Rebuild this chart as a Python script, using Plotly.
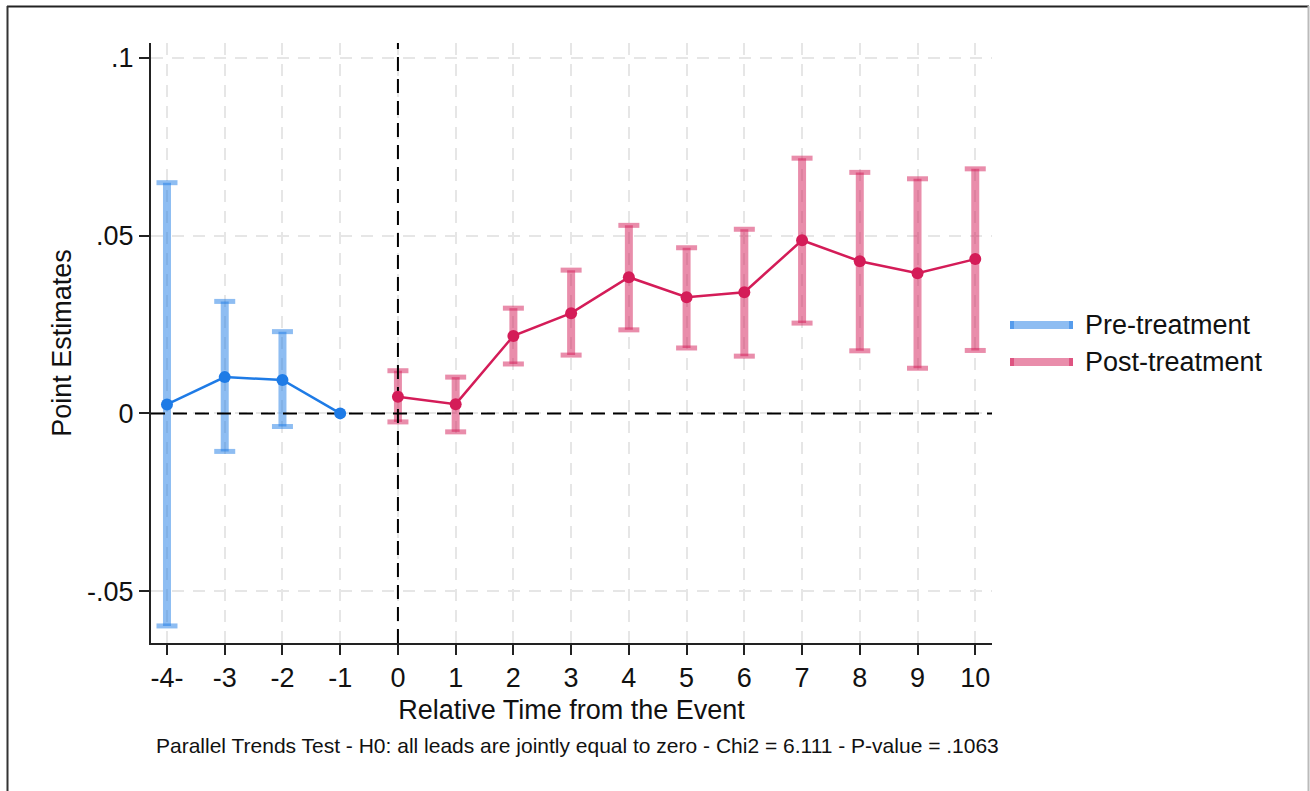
import plotly.graph_objects as go

# Event-study estimates with 95% confidence intervals
pre_x = [-4, -3, -2, -1]
pre_est = [0.0025, 0.0102, 0.0094, 0.0]
pre_lo = [-0.0598, -0.0107, -0.0037, None]
pre_hi = [0.0649, 0.0315, 0.0230, None]

post_x = [0, 1, 2, 3, 4, 5, 6, 7, 8, 9, 10]
post_est = [0.0047, 0.0026, 0.0218, 0.0282, 0.0383, 0.0327, 0.0341, 0.0487, 0.0428, 0.0394, 0.0434]
post_lo = [-0.0024, -0.0052, 0.0139, 0.0164, 0.0235, 0.0184, 0.0161, 0.0254, 0.0176, 0.0127, 0.0177]
post_hi = [0.0120, 0.0102, 0.0296, 0.0403, 0.0529, 0.0466, 0.0518, 0.0718, 0.0678, 0.0660, 0.0688]

x_ticks = [-4, -3, -2, -1, 0, 1, 2, 3, 4, 5, 6, 7, 8, 9, 10]
x_ticktext = ["-4-", "-3", "-2", "-1", "0", "1", "2", "3", "4", "5", "6", "7", "8", "9", "10"]
y_ticks = [-0.05, 0, 0.05, 0.1]
y_ticktext = ["-.05", "0", ".05", ".1"]

legend_labels = ["Pre-treatment", "Post-treatment"]
note = "Parallel Trends Test - H0: all leads are jointly equal to zero - Chi2 = 6.111 - P-value = .1063"

X_RANGE = [-4.277, 10.29]
Y_RANGE = [-0.0646, 0.1042]

FONT = "Liberation Sans, Arial, sans-serif"
BLUE = "#1E7BE6"
BLUE_CI = "rgba(30,123,230,0.5)"
RED = "#D41C58"
RED_CI = "rgba(212,28,88,0.5)"

fig = go.Figure()


def add_ci(xs, lo, hi, color):
    seg_x, seg_y, cap_x, cap_y = [], [], [], []
    for x, a, b in zip(xs, lo, hi):
        if a is None or b is None:
            continue
        seg_x += [x, x, None]
        seg_y += [a, b, None]
        cap_x += [x, x]
        cap_y += [a, b]
    fig.add_trace(go.Scatter(x=seg_x, y=seg_y, mode="lines",
                             line=dict(color=color, width=8),
                             hoverinfo="skip", showlegend=False))
    fig.add_trace(go.Scatter(x=cap_x, y=cap_y, mode="markers",
                             marker=dict(symbol="line-ew", size=15,
                                         line=dict(color=color, width=5)),
                             hoverinfo="skip", showlegend=False))


add_ci(pre_x, pre_lo, pre_hi, BLUE_CI)
add_ci(post_x, post_lo, post_hi, RED_CI)

# reference lines at zero effect and at the event date
fig.add_trace(go.Scatter(x=X_RANGE, y=[0, 0], mode="lines",
                         line=dict(color="black", width=2, dash="14px,8px"),
                         hoverinfo="skip", showlegend=False))
fig.add_trace(go.Scatter(x=[0, 0], y=Y_RANGE, mode="lines",
                         line=dict(color="black", width=2, dash="14px,8px"),
                         hoverinfo="skip", showlegend=False))

fig.add_trace(go.Scatter(x=pre_x, y=pre_est, mode="lines+markers",
                         line=dict(color=BLUE, width=2.5),
                         marker=dict(color=BLUE, size=12),
                         name=legend_labels[0], showlegend=False))
fig.add_trace(go.Scatter(x=post_x, y=post_est, mode="lines+markers",
                         line=dict(color=RED, width=2.5),
                         marker=dict(color=RED, size=12),
                         name=legend_labels[1], showlegend=False))

# plot area: x 151..992 px, y 43..643 px
L, R, T, B = 151, 992, 43, 643


def px_x(p):
    return (p - L) / (R - L)


def px_y(p):
    return (B - p) / (B - T)


shapes = []
annotations = []

# legend keys drawn as capped thick bars
for label, ci_col, ypix in zip(legend_labels, [BLUE_CI, RED_CI], [325, 362]):
    y = px_y(ypix)
    shapes.append(dict(type="line", xref="paper", yref="paper",
                       x0=px_x(1010), x1=px_x(1073), y0=y, y1=y,
                       line=dict(color=ci_col, width=8)))
    for xe in (1012, 1071):
        shapes.append(dict(type="line", xref="paper", yref="paper",
                           x0=px_x(xe - 2), x1=px_x(xe + 2), y0=y, y1=y,
                           line=dict(color=ci_col, width=8)))
    annotations.append(dict(xref="paper", yref="paper", x=px_x(1083), y=y,
                            xanchor="left", yanchor="middle", showarrow=False,
                            text=label, font=dict(family=FONT, size=27, color="#111")))

annotations.append(dict(xref="paper", yref="paper", x=px_x(577), y=px_y(745),
                        xanchor="center", yanchor="middle", showarrow=False,
                        text=note, font=dict(family=FONT, size=21, color="#111")))

# outer frame
shapes += [
    dict(type="line", xref="paper", yref="paper", x0=px_x(7), x1=px_x(1309),
         y0=px_y(6.5), y1=px_y(6.5), line=dict(color="#222", width=2)),
    dict(type="line", xref="paper", yref="paper", x0=px_x(7.5), x1=px_x(7.5),
         y0=px_y(6), y1=px_y(800), line=dict(color="#333", width=2)),
    dict(type="line", xref="paper", yref="paper", x0=px_x(1308.5), x1=px_x(1308.5),
         y0=px_y(6), y1=px_y(800), line=dict(color="#bbbbbb", width=2)),
]

fig.update_layout(
    width=1310, height=791,
    margin=dict(l=L, r=1310 - R, t=T, b=791 - B, pad=0),
    paper_bgcolor="white", plot_bgcolor="white",
    font=dict(family=FONT, size=27, color="#111"),
    shapes=shapes, annotations=annotations, showlegend=False,
    xaxis=dict(range=X_RANGE, tickvals=x_ticks, ticktext=x_ticktext,
               ticks="outside", ticklen=10, tickwidth=1.5, tickcolor="#222",
               showline=True, linecolor="#222", linewidth=2,
               showgrid=True, gridcolor="#e6e6e6", gridwidth=1.5, griddash="12px,9px",
               zeroline=False, tickfont=dict(size=27),
               title=dict(text="Relative Time from the Event", font=dict(size=27), standoff=8)),
    yaxis=dict(range=Y_RANGE, tickvals=y_ticks, ticktext=y_ticktext,
               ticks="outside", ticklen=10, tickwidth=1.5, tickcolor="#222",
               showline=True, linecolor="#222", linewidth=2,
               showgrid=True, gridcolor="#e6e6e6", gridwidth=1.5, griddash="12px,9px",
               zeroline=False, tickfont=dict(size=27),
               title=dict(text="Point Estimates", font=dict(size=27), standoff=8)),
)

fig.write_html("out.html")
